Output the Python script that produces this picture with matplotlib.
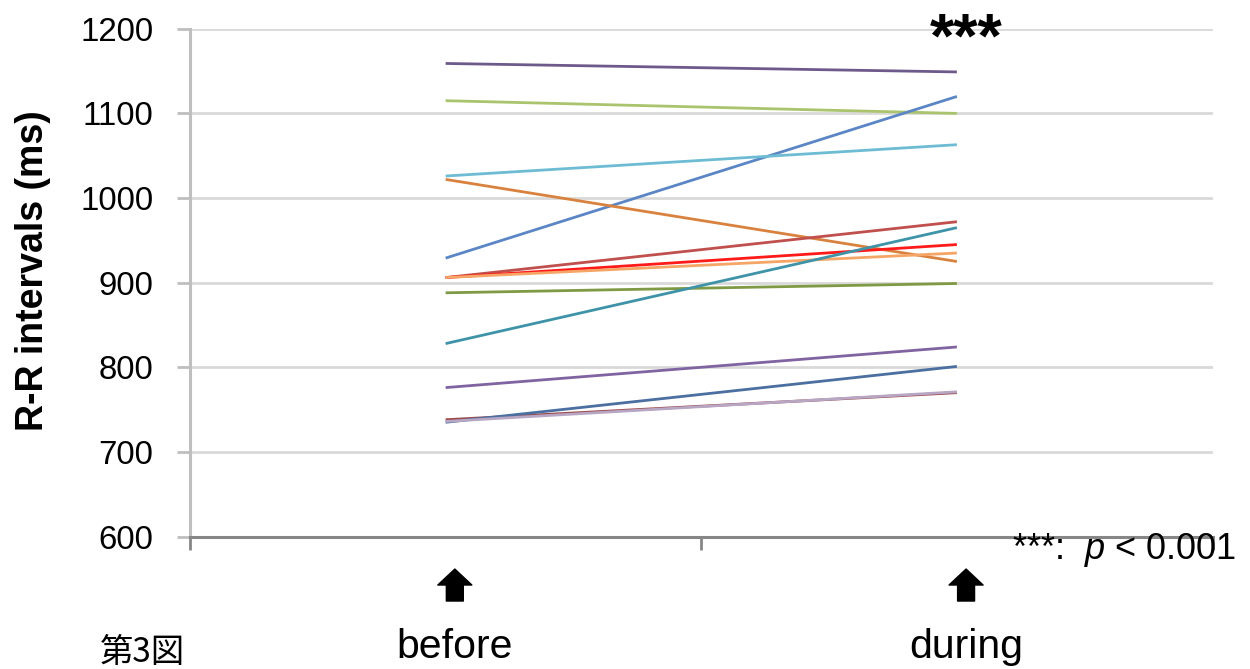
import matplotlib
matplotlib.use("Agg")
import matplotlib.pyplot as plt

plt.rcParams['font.family'] = ['Liberation Sans', 'DejaVu Sans']
plt.rcParams['mathtext.fontset'] = 'custom'
plt.rcParams['mathtext.rm'] = 'Liberation Sans'
plt.rcParams['mathtext.it'] = 'Liberation Sans:italic'

# R-R intervals (ms) per subject, before and during
conditions = ['before', 'during']
rr_before = [1159, 1115, 929, 1026, 1022, 906, 906, 906, 888, 828, 776, 738, 735, 736]
rr_during = [1149, 1100, 1120, 1063, 925, 972, 945, 935, 899, 965, 824, 770, 801, 771]
line_colors = ['#6E5A8A', '#A9C46C', '#5B86C5', '#6DBCD4', '#D9823F', '#C0504D',
               '#FF1A1A', '#F5A565', '#7F9A45', '#3F93A8', '#8064A2', '#9E4A4A',
               '#4A6FA0', '#B7A6C4']
y_ticks = [600, 700, 800, 900, 1000, 1100, 1200]

fig = plt.figure(figsize=(12.5, 6.69), dpi=100)
ax = fig.add_axes([0.152, 0.198, 0.818, 0.759])

x = [1, 2]
for b, d, c in zip(rr_before, rr_during, line_colors):
    ax.plot(x, [b, d], color=c, lw=2.0, solid_capstyle='butt', zorder=3)

ax.set_xlim(0.5, 2.5)
ax.set_ylim(600, 1200)
ax.set_yticks(y_ticks)
ax.set_xticks([0.5, 1.5, 2.5])
ax.set_xticklabels([])
ax.yaxis.grid(True, color='#D9D9D9', lw=2.0)
ax.set_axisbelow(True)

for s in ['top', 'right']:
    ax.spines[s].set_visible(False)
ax.spines['left'].set_color('#BFBFBF')
ax.spines['left'].set_linewidth(2.2)
ax.spines['bottom'].set_color('#868686')
ax.spines['bottom'].set_linewidth(2.2)
ax.tick_params(axis='y', length=9.4, width=2.0, color='#BFBFBF', pad=17,
               labelsize=23.8)
ax.tick_params(axis='x', length=9.4, width=2.0, color='#868686')

fig.text(0.0264, 0.595, 'R-R intervals (ms)', rotation=90, ha='center',
         va='center', fontsize=27, fontweight='bold')

tr = ax.get_xaxis_transform()
off = 0.018
for xi, name in zip(x, conditions):
    ax.annotate('', xy=(xi + off, -0.064), xytext=(xi + off, -0.127),
                xycoords=tr, textcoords=tr, annotation_clip=False,
                arrowprops=dict(arrowstyle='simple,head_length=1.15,head_width=2.45,tail_width=1.22',
                                color='black', shrinkA=0, shrinkB=0,
                                mutation_scale=10))
    ax.text(xi + off, -0.239, name, transform=tr, ha='center', va='baseline',
            fontsize=29.5, clip_on=False)

ax.text(2.019, 0.945, '***', transform=tr, ha='center', va='baseline',
        fontsize=45, fontweight='bold')
ax.text(2.107, -0.044, r'***:  $\mathit{p}$ < 0.001', transform=tr, ha='left',
        va='baseline', fontsize=26, clip_on=False)

fig.text(100 / 1250, 0.0105, '第3図', ha='left', va='baseline', fontsize=24,
         family=['Noto Sans CJK JP', 'DejaVu Sans'])

fig.savefig('out.png', dpi=100)
